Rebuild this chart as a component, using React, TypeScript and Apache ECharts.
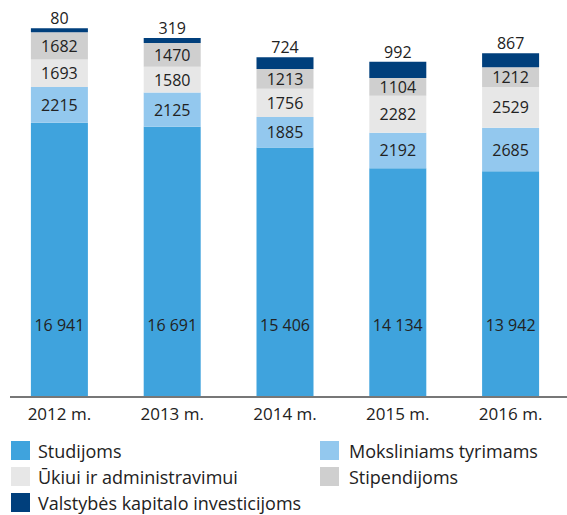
import React, { useEffect, useRef } from "react";
import * as echarts from "echarts";

const categories = ["2012 m.", "2013 m.", "2014 m.", "2015 m.", "2016 m."];
const studijoms = [16941, 16691, 15406, 14134, 13942];
const moksliniams = [2215, 2125, 1885, 2192, 2685];
const ukiui = [1693, 1580, 1756, 2282, 2529];
const stipendijoms = [1682, 1470, 1213, 1104, 1212];
const valstybes = [80, 319, 724, 992, 867];

const names = [
  "Studijoms",
  "Moksliniams tyrimams",
  "Ūkiui ir administravimui",
  "Stipendijoms",
  "Valstybės kapitalo investicijoms",
];
const colors = ["#3fa3dd", "#93c8ee", "#e7e7e7", "#cfcfcf", "#003f7c"];

const FONT = "'Open Sans', sans-serif";

function fmt(v: number) {
  return String(v).replace(/\B(?=(\d{3})+(?!\d))/g, " ");
}

export default function App() {
  const ref = useRef<HTMLDivElement>(null);
  useEffect(() => {
    if (!ref.current) return;
    const chart = echarts.init(ref.current, null, { renderer: "svg" });
    const labelBase = {
      show: true,
      color: "#222",
      fontSize: 16,
      fontFamily: FONT,
    };
    const datasets = [studijoms, moksliniams, ukiui, stipendijoms, valstybes];
    const series = datasets.map((d, i) => {
      let label: any = { ...labelBase, position: "inside" };
      if (i === 0) label = { ...labelBase, position: "insideBottom", distance: 64, formatter: (p: any) => fmt(p.value) };
      if (i === 4) label = { ...labelBase, position: "top", distance: 2 };
      return {
        name: names[i],
        type: "bar",
        stack: "total",
        data: d,
        barWidth: 57,
        barMinHeight: i === 4 ? 4 : 0,
        itemStyle: { color: colors[i] },
        label,
      };
    });
    const legendPos = [
      [11, 441, 3],
      [320, 441, 5],
      [11, 467, 3],
      [320, 467, 5],
      [11, 493, 3],
    ];
    const legends = names.map((n, i) => ({
      data: [n],
      left: legendPos[i][0],
      top: legendPos[i][1],
      padding: 0,
      itemWidth: 19,
      itemHeight: 19,
      icon: "rect",
      textStyle: {
        fontSize: 18,
        lineHeight: 19,
        color: "#222",
        fontFamily: FONT,
        padding: [0, 0, 0, legendPos[i][2]],
      },
    }));
    chart.setOption({
      animation: false,
      textStyle: { fontFamily: FONT },
      grid: { left: 3, width: 575, top: 8.5, bottom: 118, containLabel: false },
      xAxis: {
        type: "category",
        data: categories,
        axisLine: { show: false },
        axisTick: { show: false },
        axisLabel: { color: "#222", fontSize: 17, margin: 8, fontFamily: FONT },
      },
      yAxis: {
        type: "value",
        min: 0,
        max: 24000,
        show: false,
        splitLine: { show: false },
      },
      legend: legends,
      graphic: [
        {
          type: "line",
          shape: { x1: 10, y1: 397, x2: 567, y2: 397 },
          style: { stroke: "#777", lineWidth: 2 },
          z: 10,
        },
      ],
      series,
    });
    return () => chart.dispose();
  }, []);
  return (
    <div
      ref={ref}
      style={{ position: "absolute", left: 0, top: 0, width: 567, height: 515 }}
    />
  );
}
